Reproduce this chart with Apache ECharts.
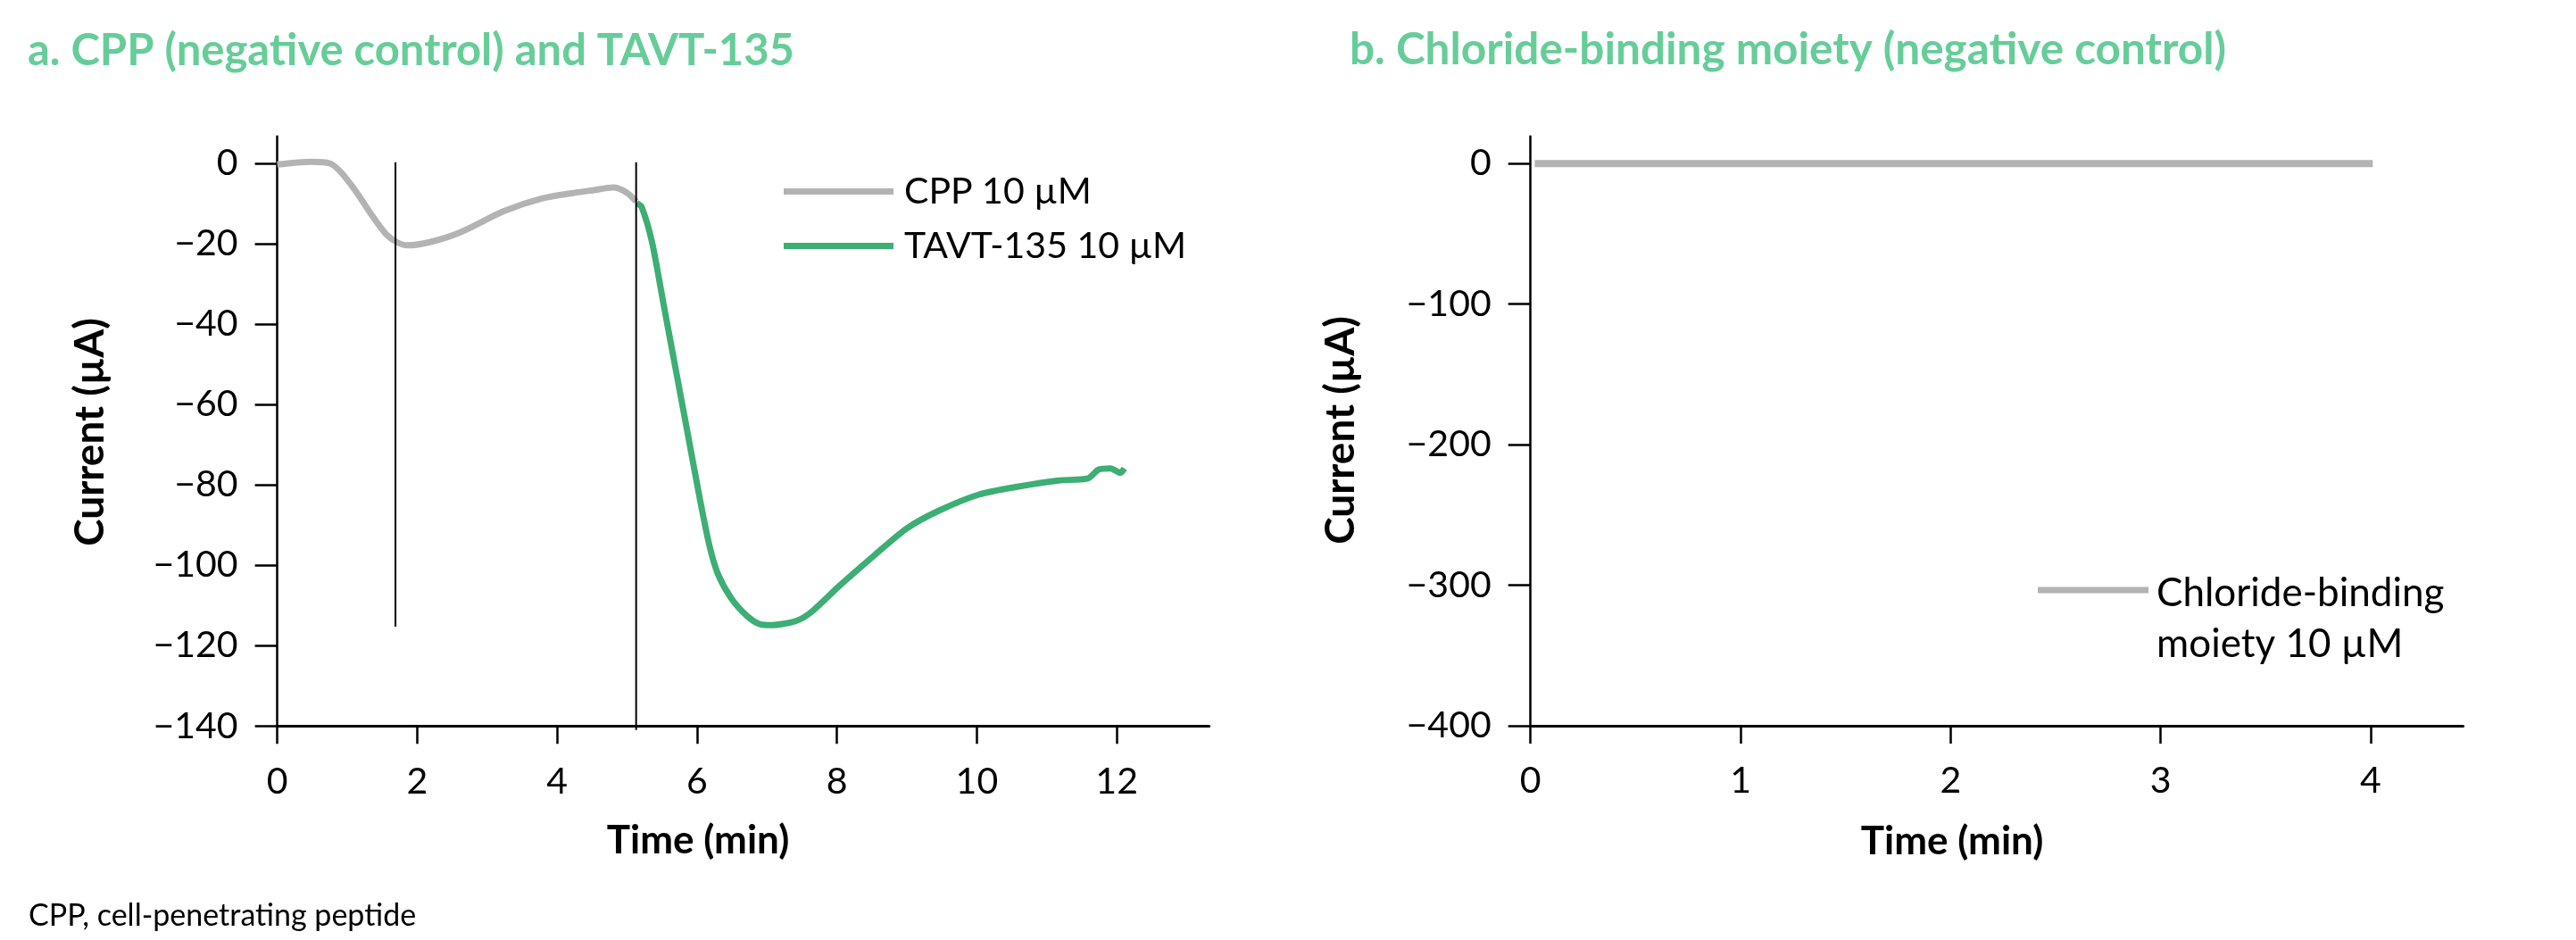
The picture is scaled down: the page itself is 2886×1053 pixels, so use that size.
<!DOCTYPE html>
<html><head><meta charset="utf-8">
<script src="https://cdn.jsdelivr.net/npm/echarts@6/dist/echarts.min.js"></script>
<style>html,body{margin:0;padding:0;background:#fff}#c{width:2886px;height:1053px}</style>
</head><body><div id="c"></div>
<script>
// ---- data ----
const cppTime    = [0, 0.49, 0.75, 0.91, 1.13, 1.34, 1.55, 1.71, 1.87, 2.18, 2.61, 3.24, 3.77, 4.30, 4.51, 4.80, 4.99, 5.13];
const cppCurrent = [-0.3, 0.4, 0, -2.2, -7.1, -12.6, -17.5, -19.6, -20.4, -19.6, -17.2, -11.9, -8.8, -7.2, -6.7, -6.0, -7.2, -9.5];
const tavtTime    = [5.14, 5.21, 5.36, 5.53, 5.70, 5.87, 6.04, 6.18, 6.30, 6.49, 6.72, 6.89, 7.07, 7.41, 7.63, 8.03, 8.55, 9.00, 9.46, 10.03, 10.60, 11.17, 11.59, 11.74, 11.91, 12.05, 12.11];
const tavtCurrent = [-9.9, -10.9, -19.8, -35.8, -51.6, -67.5, -83.4, -95.3, -102.2, -108.2, -112.7, -114.6, -114.9, -113.9, -111.7, -105.2, -97.3, -90.8, -86.4, -82.4, -80.4, -78.9, -78.4, -76.2, -75.9, -77.0, -75.9];
const chlTime    = [0.02, 1, 2, 3, 4.01];
const chlCurrent = [0, 0, 0, 0, 0];
// addition markers (vertical lines) in panel a
const marker1Time = [1.69, 1.69];
const marker1Current = [0.3, -115.3];
const marker2Time = [5.13, 5.13];
const marker2Current = [0.3, -141];
// ticks
const aXTicks = [0, 2, 4, 6, 8, 10, 12];
const aYTicks = [-140, -120, -100, -80, -60, -40, -20, 0];
const bXTicks = [0, 1, 2, 3, 4];
const bYTicks = [-400, -300, -200, -100, 0];
const seriesNames = ['CPP 10 \u00b5M', 'TAVT-135 10 \u00b5M', 'Chloride-binding\nmoiety 10 \u00b5M'];
const titleA = 'a. CPP (negative control) and TAVT-135';
const titleB = 'b. Chloride-binding moiety (negative control)';
const xTitle = 'Time (min)';
const yTitle = 'Current (\u00b5A)';
const footnote = 'CPP, cell-penetrating peptide';

const zip = (xs, ys) => xs.map((x, i) => [x, ys[i]]);
const FONT = 'Lato, "Noto Sans", sans-serif';
const GRAY = '#B3B3B3', GREEN = '#3DAE74', TITLE = '#66CD99';
const fmtNum = v => (v < 0 ? '\u2212' + Math.abs(v) : String(v));

function xAxis(grid, max, ticks) {
  return {
    type: 'value', gridIndex: grid, min: 0, max: max,
    axisLine: { show: true, onZero: false, lineStyle: { color: '#000', width: 3 } },
    axisTick: { show: true, length: 20, customValues: ticks, lineStyle: { color: '#000', width: 2.5 } },
    axisLabel: { customValues: ticks, color: '#000', fontFamily: FONT, fontSize: 41, margin: 62, verticalAlign: 'middle', formatter: fmtNum },
    splitLine: { show: false }
  };
}
function yAxis(grid, min, max, ticks) {
  return {
    type: 'value', gridIndex: grid, min: min, max: max,
    axisLine: { show: true, onZero: false, lineStyle: { color: '#000', width: 2.5 } },
    axisTick: { show: true, length: 25, customValues: ticks, lineStyle: { color: '#000', width: 2.5 } },
    axisLabel: { customValues: ticks, color: '#000', fontFamily: FONT, fontSize: 41, margin: 44, formatter: fmtNum },
    splitLine: { show: false }
  };
}
function txt(x, y, text, size, opts) {
  opts = opts || {};
  return {
    type: 'text', x: x, y: y, rotation: opts.rotation || 0, silent: true,
    style: {
      text: text, fill: opts.color || '#000', fontFamily: FONT, fontSize: size, fontWeight: opts.bold ? 'bold' : 'normal',
      align: opts.align || 'left', verticalAlign: opts.va || 'middle',
      textAlign: opts.align || 'left', textVerticalAlign: opts.va || 'middle',
      lineHeight: opts.lineHeight
    }
  };
}

const chart = echarts.init(document.getElementById('c'), null, { renderer: 'canvas' });
chart.setOption({
  animation: false,
  backgroundColor: '#fff',
  grid: [
    { left: 310.6, top: 152.7, width: 1044, height: 660.6 },
    { left: 1714.7, top: 152.7, width: 1044.8, height: 660.3 }
  ],
  xAxis: [xAxis(0, 13.32, aXTicks), xAxis(1, 4.44, bXTicks)],
  yAxis: [yAxis(0, -140, 6.73, aYTicks), yAxis(1, -400, 19.4, bYTicks)],
  legend: {
    data: [seriesNames[0], seriesNames[1]],
    orient: 'vertical', left: 878, top: 194, padding: 0,
    itemWidth: 123, itemHeight: 7, itemGap: 20, icon: 'rect', selectedMode: false,
    textStyle: { fontFamily: FONT, fontSize: 41, color: '#000', lineHeight: 41, padding: [0, 0, 0, 7] }
  },
  series: [
    { name: seriesNames[0], type: 'line', xAxisIndex: 0, yAxisIndex: 0, data: zip(cppTime, cppCurrent),
      showSymbol: false, smooth: 0.3, z: 2, color: GRAY, itemStyle: { color: GRAY }, lineStyle: { color: GRAY, width: 7 } },
    { name: seriesNames[1], type: 'line', xAxisIndex: 0, yAxisIndex: 0, data: zip(tavtTime, tavtCurrent),
      showSymbol: false, smooth: 0.25, z: 3, color: GREEN, itemStyle: { color: GREEN }, lineStyle: { color: GREEN, width: 7 } },
    { name: 'marker1', type: 'line', xAxisIndex: 0, yAxisIndex: 0, data: zip(marker1Time, marker1Current),
      showSymbol: false, silent: true, clip: false, z: 4, lineStyle: { color: '#000', width: 2 } },
    { name: 'marker2', type: 'line', xAxisIndex: 0, yAxisIndex: 0, data: zip(marker2Time, marker2Current),
      showSymbol: false, silent: true, clip: false, z: 4, lineStyle: { color: '#000', width: 2 } },
    { name: seriesNames[2], type: 'line', xAxisIndex: 1, yAxisIndex: 1, data: zip(chlTime, chlCurrent),
      showSymbol: false, z: 2, color: GRAY, itemStyle: { color: GRAY }, lineStyle: { color: GRAY, width: 8 } }
  ],
  graphic: [
    txt(31, 57, titleA, 49, { bold: true, color: TITLE }),
    txt(1512, 56, titleB, 49.5, { bold: true, color: TITLE }),
    txt(782, 942, xTitle, 44, { bold: true, align: 'center' }),
    txt(2187, 943, xTitle, 44, { bold: true, align: 'center' }),
    txt(101, 484, yTitle, 46, { bold: true, align: 'center', rotation: Math.PI / 2 }),
    txt(1502, 482, yTitle, 46, { bold: true, align: 'center', rotation: Math.PI / 2 }),
    txt(32, 1026, footnote, 34),
    { type: 'rect', silent: true, shape: { x: 2283, y: 657.5, width: 124, height: 7 }, style: { fill: GRAY } },
    txt(2416, 636, seriesNames[2], 44, { va: 'top', lineHeight: 57 })
  ]
});
</script>
</body></html>
